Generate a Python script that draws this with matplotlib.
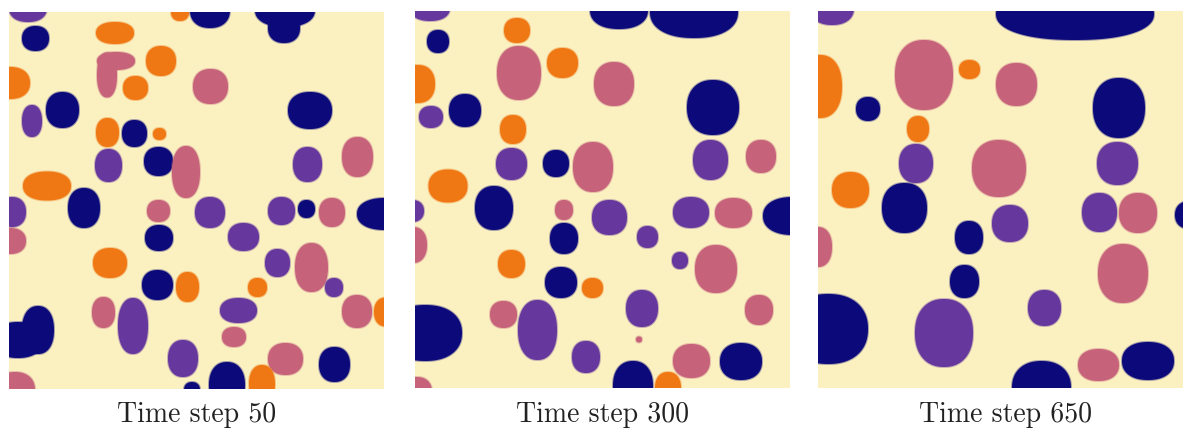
import numpy as np
import matplotlib
matplotlib.use("Agg")
import matplotlib.pyplot as plt
from matplotlib.patches import Polygon

# ---- data: blobs per time step, (x, y, width, height, phase) in grid units ----
titles = ["Time step 50", "Time step 300", "Time step 650"]

blobs_50 = [
    (19, -4, 38, 28, "P"), (26.5, 26.5, 27, 25, "N"), (171, 0, 18, 18, "O"),
    (201, -2, 40, 36, "N"), (276, -2, 60, 34, "N"), (275, 16, 32, 30, "N"),
    (106, 21, 38, 22, "O"), (98, 63, 20, 45, "M"), (107, 49, 38, 18, "M"),
    (152, 49, 30, 30, "O"), (126.5, 76, 25, 24, "O"), (1, 71, 40, 32, "O"),
    (201.5, 74.5, 35, 35, "M"), (301, 98.5, 44, 37, "N"), (23, 109, 20, 32, "P"),
    (53.5, 98, 33, 36, "N"), (98.5, 120.5, 23, 29, "O"), (125.5, 121.5, 25, 27, "N"),
    (150.5, 122, 13, 12, "O"), (99.5, 153.5, 27, 33, "P"), (149.5, 149.5, 29, 29, "N"),
    (177, 160, 28, 52, "M"), (298.5, 152.5, 29, 35, "P"), (348.5, 145, 31, 40, "M"),
    (38, 174, 48, 29, "O"), (75, 196, 32, 40, "N"), (3, 200, 28, 30, "P"),
    (201, 200.5, 30, 31, "P"), (149.5, 199, 23, 22, "M"), (272.5, 199, 27, 28, "P"),
    (297.5, 197, 17, 18, "N"), (323, 200.5, 26, 29, "M"), (376, 202, 56, 32, "N"),
    (1, 229, 32, 26, "M"), (150, 226, 28, 26, "N"), (234.5, 225, 31, 28, "P"),
    (101, 251, 34, 30, "O"), (268.5, 251, 25, 28, "P"), (302.5, 255.5, 33, 49, "M"),
    (148.5, 273, 31, 30, "N"), (178.5, 275, 23, 30, "O"), (248.5, 275.5, 19, 19, "O"),
    (325, 275.5, 18, 19, "P"), (9, 328, 50, 36, "N"), (29, 318, 32, 48, "N"),
    (94.5, 300.5, 23, 31, "M"), (124, 314, 30, 56, "P"), (229.5, 298.5, 37, 25, "P"),
    (348, 299.5, 30, 33, "M"), (377, 300, 24, 29, "O"), (225, 325, 24, 20, "M"),
    (174, 346.5, 30, 37, "P"), (276.5, 347, 35, 32, "M"), (325.5, 352.5, 31, 35, "N"),
    (6, 378, 40, 36, "M"), (183, 378, 16, 16, "N"), (218, 373, 36, 46, "N"),
    (253, 372, 26, 38, "O"),
]

blobs_300 = [
    (15, -3, 40, 26, "P"), (23, 30.5, 22, 23, "N"), (102, 19.5, 26, 25, "O"),
    (204, -1, 58, 38, "N"), (279, 1, 88, 52, "N"), (104, 62, 44, 54, "M"),
    (147.5, 52, 31, 30, "O"), (199, 73, 40, 44, "M"), (3, 73, 34, 38, "O"),
    (298, 96.5, 52, 55, "N"), (16, 106, 24, 22, "P"), (50, 99.5, 32, 33, "N"),
    (98, 118.5, 26, 29, "O"), (96.5, 153, 31, 32, "P"), (141, 152.5, 26, 27, "N"),
    (178, 156, 40, 50, "M"), (295.5, 149, 35, 40, "P"), (346, 145.5, 30, 33, "M"),
    (33, 175, 39, 33, "O"), (79, 197, 38, 44, "N"), (-3, 200, 24, 22, "P"),
    (149, 199, 18, 20, "M"), (194.5, 206.5, 35, 35, "P"), (276, 201.5, 36, 31, "P"),
    (318.5, 202, 37, 30, "M"), (378, 205, 60, 38, "N"), (-2, 234, 28, 36, "M"),
    (149, 227.5, 28, 31, "N"), (232.5, 226, 21, 22, "P"), (96.5, 253, 27, 28, "O"),
    (265, 249.5, 16, 17, "P"), (301, 258, 42, 48, "M"), (146, 271.5, 32, 31, "N"),
    (177.5, 277, 21, 20, "O"), (227, 297.5, 32, 37, "P"), (344, 299, 28, 30, "M"),
    (10, 322, 74, 56, "N"), (88.5, 303.5, 27, 27, "M"), (122.5, 319, 39, 60, "P"),
    (224, 328.5, 6, 6, "M"), (171, 346, 28, 32, "P"), (276.5, 350, 37, 34, "M"),
    (326, 350.5, 42, 37, "N"), (218, 375, 40, 50, "N"), (253, 377, 26, 32, "O"),
    (2, 381, 30, 30, "M"),
]

blobs_650 = [
    (14, -3, 44, 34, "P"), (257, 3, 158, 52, "N"), (2, 75.5, 44, 63, "O"),
    (106, 64, 58, 70, "M"), (151.5, 58.5, 21, 19, "O"), (198.5, 73.5, 41, 43, "M"),
    (50, 98, 24, 24, "N"), (301, 97, 52, 60, "N"), (100, 118, 22, 26, "O"),
    (98, 152.5, 34, 39, "P"), (181, 157.5, 54, 57, "M"), (299.5, 152.5, 41, 43, "P"),
    (32.5, 179, 37, 36, "O"), (86.5, 197, 45, 50, "N"), (192, 212.5, 36, 37, "P"),
    (281.5, 201.5, 35, 39, "P"), (320, 202, 38, 40, "M"), (372, 204, 30, 28, "N"),
    (151, 226.5, 28, 33, "N"), (0, 236, 28, 40, "M"), (146.5, 270.5, 29, 33, "N"),
    (305, 262.5, 50, 59, "M"), (226.5, 297, 33, 36, "P"), (10, 318, 80, 70, "N"),
    (126, 322, 58, 68, "P"), (280.5, 354, 41, 32, "M"), (330, 350, 52, 38, "N"),
    (223.5, 377, 59, 54, "N"),
]

panels = [blobs_50, blobs_300, blobs_650]

# ---- styles ----
phase_colors = {"O": "#F07814", "M": "#C6627A", "P": "#66379C", "N": "#0C0A7A"}
background = "#FAF0C0"
GRID_W, GRID_H = 375, 377

W, H = 1183, 430
fig = plt.figure(figsize=(W / 100, H / 100), dpi=100)
fig.patch.set_facecolor("white")

panel_px = [(9, 12), (415, 11), (818, 11)]  # left, top in pixels


def superellipse(cx, cy, w, h, n=2.25, m=140):
    t = np.linspace(0, 2 * np.pi, m, endpoint=False)
    c, s = np.cos(t), np.sin(t)
    x = cx + (w / 2) * np.sign(c) * np.abs(c) ** (2 / n)
    y = cy + (h / 2) * np.sign(s) * np.abs(s) ** (2 / n)
    return np.column_stack([x, y])


for i, (blobs, title) in enumerate(zip(panels, titles)):
    left, top = panel_px[i]
    ax = fig.add_axes([left / W, (H - top - GRID_H) / H, GRID_W / W, GRID_H / H])
    ax.set_facecolor(background)
    ax.set_xlim(0, GRID_W)
    ax.set_ylim(GRID_H, 0)
    ax.set_xticks([])
    ax.set_yticks([])
    for sp in ax.spines.values():
        sp.set_visible(False)
    for (cx, cy, w, h, ph) in blobs:
        col = phase_colors[ph]
        # soft halo
        ax.add_patch(Polygon(superellipse(cx, cy, w + 2.0, h + 2.0), closed=True,
                             facecolor=col, edgecolor="none", alpha=0.35))
        ax.add_patch(Polygon(superellipse(cx, cy, w, h), closed=True,
                             facecolor=col, edgecolor="none"))
    fig.text((left + GRID_W / 2) / W, (H - 422) / H, title, ha="center",
             va="baseline", fontsize=20, family="cmr10", color="#222222")

fig.savefig("out.png", dpi=100)
